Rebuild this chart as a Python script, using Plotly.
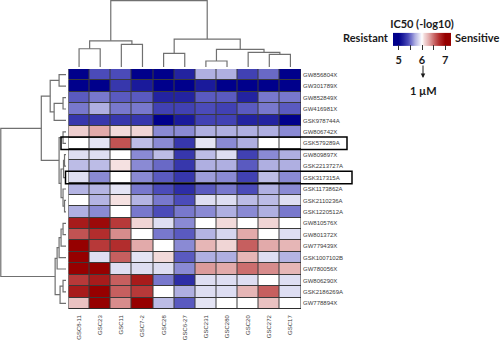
import plotly.graph_objects as go

W, H = 500, 341

cell_lines = ["GSC8-11", "GSC23", "GSC11", "GSC7-2", "GSC28", "GSC6-27",
              "GSC231", "GSC280", "GSC20", "GSC272", "GSC17"]

compounds = ["GW856804X", "GW301789X", "GW852849X", "GW416981X", "GSK978744A",
             "GW806742X", "GSK579289A", "GW809897X", "GSK2213727A", "GSK317315A",
             "GSK1173862A", "GSK2110236A", "GSK1220512A", "GW810576X", "GW801372X",
             "GW779439X", "GSK1007102B", "GW780056X", "GW806290X", "GSK2186269A",
             "GW778894X"]

# IC50 (-log10), one list per compound (row), in cell_lines order
ic50 = [
    [5.00, 5.40, 5.40, 5.00, 5.00, 5.20, 5.70, 5.70, 5.35, 5.50, 5.00],
    [5.00, 5.00, 5.30, 5.15, 5.00, 5.00, 5.15, 5.00, 5.00, 5.00, 5.00],
    [5.45, 5.55, 5.45, 5.45, 5.20, 5.20, 5.45, 5.45, 5.20, 5.55, 5.55],
    [5.55, 5.70, 5.55, 5.55, 5.35, 5.35, 5.40, 5.35, 5.45, 5.55, 5.45],
    [5.30, 5.30, 5.30, 5.30, 5.00, 5.15, 5.35, 5.35, 5.20, 5.20, 5.00],
    [6.15, 6.30, 6.10, 6.12, 5.60, 5.60, 5.70, 5.70, 5.70, 5.70, 5.60],
    [6.00, 5.90, 6.60, 5.75, 5.60, 5.30, 5.90, 5.60, 5.70, 6.00, 6.00],
    [5.88, 5.88, 6.00, 5.60, 5.75, 5.30, 5.75, 5.88, 5.35, 5.60, 5.70],
    [5.75, 5.75, 6.08, 5.60, 5.50, 5.30, 5.70, 5.70, 5.45, 5.70, 5.70],
    [5.88, 5.60, 6.00, 5.60, 5.45, 5.30, 5.65, 5.60, 5.35, 5.75, 5.60],
    [5.72, 5.72, 5.90, 5.55, 5.40, 5.25, 5.45, 5.55, 5.40, 5.70, 5.60],
    [6.00, 5.72, 6.08, 5.72, 5.55, 5.40, 5.88, 5.88, 5.75, 5.75, 5.88],
    [5.70, 5.60, 6.00, 5.55, 5.40, 5.55, 5.60, 5.70, 5.60, 5.70, 5.55],
    [6.85, 6.95, 6.70, 6.12, 5.88, 5.60, 6.00, 6.10, 6.00, 6.12, 6.00],
    [6.60, 6.75, 6.40, 6.00, 5.55, 5.45, 5.72, 5.85, 6.30, 6.00, 5.88],
    [7.00, 6.70, 6.75, 6.30, 6.00, 5.60, 6.25, 6.12, 6.55, 6.30, 6.25],
    [7.00, 5.88, 6.55, 5.90, 6.10, 5.45, 5.70, 5.70, 6.25, 5.88, 5.72],
    [7.00, 7.00, 5.88, 5.88, 5.88, 5.60, 6.35, 6.30, 6.50, 6.40, 6.25],
    [6.70, 6.85, 6.55, 6.85, 5.55, 5.25, 5.88, 5.88, 5.88, 6.00, 5.88],
    [6.85, 7.00, 6.55, 6.70, 6.00, 5.70, 5.88, 5.88, 6.25, 6.55, 5.88],
    [6.20, 7.00, 6.40, 7.00, 5.75, 5.45, 5.90, 6.00, 6.00, 6.20, 6.00],
]

# Hierarchical clustering trees: (left, right, merge height); ints are leaf indices
col_tree = (((0, 1, 18.3), (2, 3, 22.7), 26.3),
            ((4, 5, 13.7), ((6, 7, 6.0), (8, (9, 10, 12.7), 14.7), 17.7), 28.0),
            66.5)

row_A = ((0, 1, 7.0), ((2, 3, 3.0), 4, 12.0), 16.0)
row_B = ((5, 6, 3.0), (((7, 8, 1.5), 9, 2.5), (10, (11, 12, 1.5), 3.0), 5.0), 7.0)
row_C = (((((13, 14, 3.0), 15, 5.0), 16, 7.0), 17, 9.0), ((18, 19, 3.0), 20, 6.0), 11.0)
row_tree = ((row_A, row_B, 25.0), row_C, 66.0)

boxed_rows = ["GSK579289A", "GSK317315A"]

colorbar_ticks = [5, 5.5, 6, 6.5, 7]
colorbar_ticktext = ["5", "", "6", "", "7"]
zmin, zmax = 4.75, 7.25

# colour stops: (value, colour)
color_stops = [
    (4.75, "rgb(0,0,139)"),
    (5.00, "rgb(0,0,139)"),
    (5.20, "rgb(35,35,160)"),
    (5.40, "rgb(75,75,185)"),
    (5.55, "rgb(120,120,205)"),
    (5.70, "rgb(175,175,225)"),
    (5.88, "rgb(222,222,242)"),
    (6.00, "rgb(255,255,255)"),
    (6.10, "rgb(242,218,218)"),
    (6.30, "rgb(226,170,170)"),
    (6.55, "rgb(198,95,95)"),
    (6.75, "rgb(178,45,45)"),
    (7.00, "rgb(150,0,0)"),
    (7.25, "rgb(150,0,0)"),
]


def segments(node):
    if isinstance(node, int):
        return float(node), 0.0, [], []
    left, right, h = node
    cl, hl, pl, ql = segments(left)
    cr, hr, pr, qr = segments(right)
    pos = pl + pr + [cl, cl, cr, cr, None]
    hts = ql + qr + [hl, h, h, hr, None]
    return (cl + cr) / 2, h, pos, hts


def fx(px):
    return px / W


def fy(py):
    return (H - py) / H


colorscale = [[(v - zmin) / (zmax - zmin), c] for v, c in color_stops]

bold = dict(family="Lato, Open Sans, sans-serif", size=11, color="#1a1a1a", weight=700)
lab_font = dict(family="Liberation Sans, Arial, sans-serif", size=6, color="#3a3a3a")

fig = go.Figure()

fig.add_trace(go.Heatmap(
    z=ic50, x=list(range(len(cell_lines))), y=list(range(len(compounds))),
    colorscale=colorscale, zmin=zmin, zmax=zmax, xgap=1, ygap=1,
    hoverinfo="skip",
    colorbar=dict(
        orientation="h", x=fx(422), xanchor="center", y=fy(42.5), yanchor="middle",
        len=58, lenmode="pixels", thickness=13, thicknessmode="pixels",
        xpad=0, ypad=0, outlinewidth=0,
        tickvals=colorbar_ticks, ticktext=colorbar_ticktext,
        ticks="outside", ticklen=5, tickwidth=1, tickcolor="#333333",
        tickfont=bold,
        title=dict(text="IC50 (-log10)", side="top", font=bold),
    ),
))

cc, ch, cpos, chts = segments(col_tree)
fig.add_trace(go.Scatter(x=cpos, y=chts, xaxis="x", yaxis="y2", mode="lines",
                         line=dict(color="#707070", width=1.2), hoverinfo="skip",
                         showlegend=False))

rc, rh, rpos, rhts = segments(row_tree)
fig.add_trace(go.Scatter(x=rhts, y=rpos, xaxis="x3", yaxis="y", mode="lines",
                         line=dict(color="#707070", width=1.2), hoverinfo="skip",
                         showlegend=False))

n_rows, n_cols = len(compounds), len(cell_lines)

shapes = [dict(type="rect", xref="x", yref="y", x0=-0.5, x1=n_cols - 0.5,
               y0=-0.5, y1=n_rows - 0.5, fillcolor="#3a3a3a",
               line=dict(color="#222222", width=1), layer="below")]
box_x = [(61, 347), (65.5, 352)]
for name, (x0, x1) in zip(boxed_rows, box_x):
    r = compounds.index(name)
    shapes.append(dict(type="rect", xref="paper", yref="y", x0=fx(x0), x1=fx(x1),
                       y0=r - 0.55, y1=r + 0.55, line=dict(color="black", width=1.5),
                       layer="above"))

annotations = [
    dict(text="Resistant", x=fx(391), y=fy(37.5), xref="paper", yref="paper",
         xanchor="right", yanchor="middle", showarrow=False, font=bold),
    dict(text="Sensitive", x=fx(453), y=fy(37.5), xref="paper", yref="paper",
         xanchor="left", yanchor="middle", showarrow=False, font=bold),
    dict(text="", x=fx(423), y=fy(78), xref="paper", yref="paper",
         showarrow=True, ax=0, ay=-14, arrowhead=2, arrowsize=0.9, arrowwidth=1,
         arrowcolor="#1a1a1a"),
    dict(text="1 µM", x=fx(423), y=fy(90), xref="paper", yref="paper",
         xanchor="center", yanchor="middle", showarrow=False, font=bold),
]

fig.update_layout(
    width=W, height=H, margin=dict(l=0, r=0, t=0, b=0, autoexpand=False),
    paper_bgcolor="white", plot_bgcolor="rgba(0,0,0,0)",
    showlegend=False, shapes=shapes, annotations=annotations,
    xaxis=dict(domain=[fx(68.5), fx(301)], range=[-0.5, n_cols - 0.5],
               tickvals=list(range(n_cols)), ticktext=cell_lines, tickangle=-90,
               ticks="", showgrid=False, zeroline=False, showline=False,
               tickfont=lab_font, ticklabelstandoff=4, automargin=False, anchor="y"),
    yaxis=dict(domain=[fy(309), fy(69)], range=[n_rows - 0.5, -0.5],
               tickvals=list(range(n_rows)), ticktext=compounds, side="right",
               ticks="", showgrid=False, zeroline=False, showline=False,
               tickfont=lab_font, ticklabelstandoff=1, automargin=False, anchor="x"),
    yaxis2=dict(domain=[fy(67), 1.0], range=[0, 67.2], visible=False, anchor="x"),
    xaxis3=dict(domain=[0.0, fx(66)], range=[66.8, 0], visible=False, anchor="y"),
)

fig.write_html(
    "out.html",
    config={"displayModeBar": False, "staticPlot": True},
    post_script="document.body.style.margin='0';document.body.style.overflow='hidden';",
)
